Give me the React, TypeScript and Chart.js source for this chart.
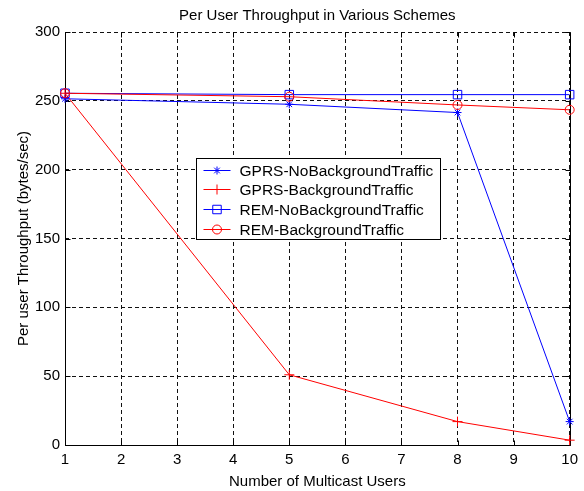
import React, { useEffect, useRef } from 'react';
import { Chart, registerables } from 'chart.js';

Chart.register(...registerables);

const users = [1, 5, 8, 10];
const gprsNoBackground = [251.5, 247.5, 241.5, 17];
const gprsBackground = [255.5, 51, 17, 3.5];
const remNoBackground = [255.5, 254.5, 254.5, 254.5];
const remBackground = [255.5, 253, 247, 243.5];

const seriesLabels = [
  'GPRS-NoBackgroundTraffic',
  'GPRS-BackgroundTraffic',
  'REM-NoBackgroundTraffic',
  'REM-BackgroundTraffic',
];
const seriesColors = ['#0000ff', '#ff0000', '#0000ff', '#ff0000'];
const seriesMarkers = ['star', 'cross', 'rect', 'circle'];
const markerRadius = [4, 5, 6, 4.5];

const chartTitle = 'Per User Throughput in Various Schemes';
const xAxisTitle = 'Number of Multicast Users';
const yAxisTitle = 'Per user Throughput (bytes/sec)';
const xMin = 1;
const xMax = 10;
const yMin = 0;
const yMax = 300;
const yStep = 50;

const FONT = '"Liberation Sans", Arial, Helvetica, sans-serif';

function drawMarker(ctx: CanvasRenderingContext2D, style: string, x: number, y: number, color: string, r: number) {
  ctx.save();
  ctx.strokeStyle = color;
  ctx.lineWidth = 1;
  ctx.beginPath();
  if (style === 'star') {
    ctx.moveTo(x - r, y); ctx.lineTo(x + r, y);
    ctx.moveTo(x, y - r); ctx.lineTo(x, y + r);
    const d = r * 0.707;
    ctx.moveTo(x - d, y - d); ctx.lineTo(x + d, y + d);
    ctx.moveTo(x - d, y + d); ctx.lineTo(x + d, y - d);
  } else if (style === 'cross') {
    ctx.moveTo(x - r, y); ctx.lineTo(x + r, y);
    ctx.moveTo(x, y - r); ctx.lineTo(x, y + r);
  } else if (style === 'rect') {
    const s = r * 0.707;
    ctx.rect(x - s, y - s, 2 * s, 2 * s);
  } else {
    ctx.arc(x, y, r, 0, Math.PI * 2);
  }
  ctx.stroke();
  ctx.restore();
}

const matlabPlugin = {
  id: 'matlabDecor',
  beforeDatasetsDraw(chart: any) {
    const { ctx, chartArea, scales } = chart;
    const { left, right, top, bottom } = chartArea;
    ctx.save();
    ctx.strokeStyle = '#000';
    ctx.lineWidth = 1;
    ctx.setLineDash([]);
    const L = Math.round(left) + 0.5;
    const R = Math.round(right) + 0.5;
    const T = Math.round(top) + 0.5;
    const B = Math.round(bottom) + 0.5;
    ctx.beginPath();
    ctx.moveTo(L, T); ctx.lineTo(L, B); ctx.lineTo(R, B); ctx.lineTo(R, T);
    ctx.stroke();
    const tl = 5;
    ctx.beginPath();
    for (let v = xMin; v <= xMax; v++) {
      const px = Math.round(scales.x.getPixelForValue(v)) + 0.5;
      ctx.moveTo(px, B); ctx.lineTo(px, B - tl);
      ctx.moveTo(px, T); ctx.lineTo(px, T + tl);
    }
    for (let v = yMin; v <= yMax; v += yStep) {
      const py = Math.round(scales.y.getPixelForValue(v)) + 0.5;
      ctx.moveTo(L, py); ctx.lineTo(L + tl, py);
      ctx.moveTo(R, py); ctx.lineTo(R - tl, py);
    }
    ctx.stroke();
    ctx.restore();
  },
  afterDraw(chart: any) {
    const { ctx, chartArea } = chart;
    const { left, right, top, bottom } = chartArea;
    const w = right - left;
    const h = bottom - top;
    ctx.save();
    ctx.fillStyle = '#000';
    ctx.font = `15px ${FONT}`;
    ctx.textAlign = 'center';
    ctx.textBaseline = 'middle';
    ctx.fillText(chartTitle, (left + right) / 2, 16);
    ctx.fillText(xAxisTitle, (left + right) / 2, 482);
    ctx.save();
    ctx.translate(24, (top + bottom) / 2);
    ctx.rotate(-Math.PI / 2);
    ctx.fillText(yAxisTitle, 0, 0);
    ctx.restore();

    // legend
    const LX = Math.round(left + 0.26 * w) + 0.5;
    const LY = Math.round(top + 0.305 * h) + 0.5;
    const LW = 244;
    const LH = 81;
    ctx.fillStyle = '#fff';
    ctx.fillRect(LX, LY, LW, LH);
    ctx.strokeStyle = '#000';
    ctx.lineWidth = 1;
    ctx.strokeRect(LX, LY, LW, LH);
    ctx.font = `15.5px ${FONT}`;
    ctx.textAlign = 'left';
    chart.data.datasets.forEach((ds: any, i: number) => {
      const y = Math.round(LY + 11 + i * 19.7) + 0.5;
      const color = seriesColors[i];
      ctx.strokeStyle = color;
      ctx.beginPath();
      ctx.moveTo(LX + 7, y);
      ctx.lineTo(LX + 34, y);
      ctx.stroke();
      drawMarker(ctx, seriesMarkers[i], LX + 20.5, y, color, markerRadius[i]);
      ctx.fillStyle = '#000';
      ctx.fillText(ds.label, LX + 43, y + 1);
    });
    ctx.restore();
  },
};

export default function App() {
  const ref = useRef<HTMLCanvasElement | null>(null);
  useEffect(() => {
    document.body.style.margin = '0';
    const canvas = ref.current;
    if (!canvas) return;
    const seriesValues = [gprsNoBackground, gprsBackground, remNoBackground, remBackground];
    const chart = new Chart(canvas, {
      type: 'line',
      data: {
        datasets: seriesValues.map((vals, i) => ({
          label: seriesLabels[i],
          data: users.map((u, j) => ({ x: u, y: vals[j] })),
          borderColor: seriesColors[i],
          backgroundColor: 'rgba(0,0,0,0)',
          pointBackgroundColor: 'rgba(0,0,0,0)',
          pointBorderColor: seriesColors[i],
          pointStyle: seriesMarkers[i] as any,
          pointRadius: markerRadius[i],
          pointBorderWidth: 1,
          borderWidth: 1,
          tension: 0,
          fill: false,
          clip: false as any,
          order: 3 - i,
        })),
      },
      options: {
        responsive: false,
        animation: false,
        devicePixelRatio: 1,
        layout: { padding: { top: 32, right: 12, left: 0, bottom: 0 } },
        plugins: {
          legend: { display: false },
          title: { display: false },
          tooltip: { enabled: false },
        },
        scales: {
          x: {
            type: 'linear',
            min: xMin,
            max: xMax,
            afterFit: (s: any) => { s.height = 46; },
            ticks: {
              stepSize: 1,
              color: '#000',
              padding: 6,
              font: { family: FONT, size: 15 },
              maxRotation: 0,
              autoSkip: false,
            },
            grid: { color: '#111', lineWidth: 1, drawTicks: false },
            border: { display: false, dash: [4, 3] },
          },
          y: {
            type: 'linear',
            min: yMin,
            max: yMax,
            afterFit: (s: any) => { s.width = 65; },
            ticks: {
              stepSize: yStep,
              color: '#000',
              padding: 5,
              font: { family: FONT, size: 15 },
            },
            grid: { color: '#111', lineWidth: 1, drawTicks: false },
            border: { display: false, dash: [4, 3] },
          },
        },
      },
      plugins: [matlabPlugin],
    });
    return () => chart.destroy();
  }, []);
  return (
    <div style={{ width: 584, height: 491, background: '#fff' }}>
      <canvas ref={ref} width={584} height={491} style={{ display: 'block', width: 584, height: 491 }} />
    </div>
  );
}
